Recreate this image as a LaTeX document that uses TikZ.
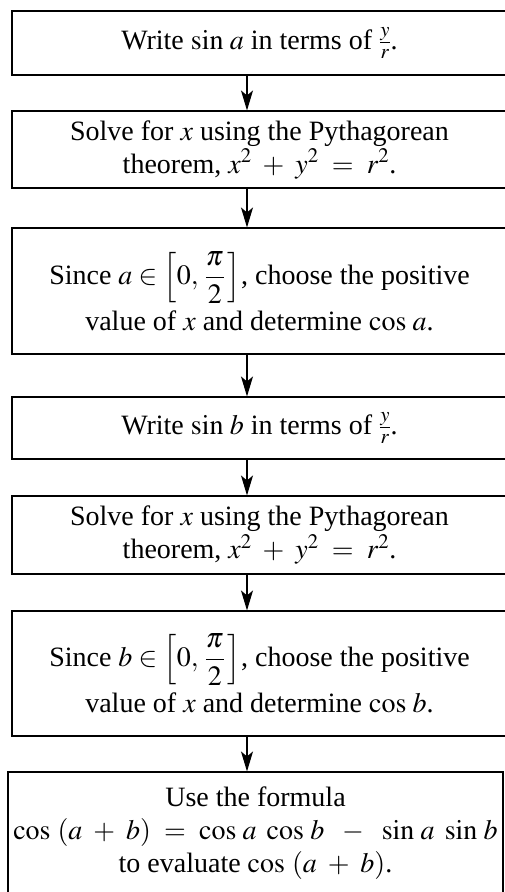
\documentclass[tikz,border=0pt]{standalone}
\usepackage{amsmath}
\usepackage{mathptmx}
\usepackage{fontspec}
\setmainfont{Liberation Serif}
\usetikzlibrary{arrows.meta,positioning}
\tikzset{
  stepbox/.style={draw,line width=1.1pt,minimum width=495pt,align=center,inner sep=0pt},
  flow/.style={-{Stealth[length=20pt,width=12pt,inset=5pt]},line width=1.1pt}
}
\begin{document}
\begin{tikzpicture}[x=1pt,y=-1pt,font=\fontsize{28}{33}\selectfont]
\useasboundingbox (0,0) rectangle (505,892);
\node[stepbox,minimum height=64pt] (sina) at (259.5,43) {Write $\sin\,a$ in terms of $\frac{y}{r}$.};
\node[stepbox,minimum height=77pt] (pya) at (259.5,149.5) {Solve for $x$ using the Pythagorean\\ theorem, $x^2\ +\ y^2\ =\ r^2$.};
\node[stepbox,minimum height=126pt] (cosa) at (259.5,291) {Since $a \in \left[0,\, \dfrac{\pi}{2}\,\right]$, choose the positive\\[6pt] value of $x$ and determine $\cos\,a$.};
\node[stepbox,minimum height=62pt] (sinb) at (259.5,428) {Write $\sin\,b$ in terms of $\frac{y}{r}$.};
\node[stepbox,minimum height=78pt] (pyb) at (259.5,535) {Solve for $x$ using the Pythagorean\\ theorem, $x^2\ +\ y^2\ =\ r^2$.};
\node[stepbox,minimum height=125pt] (cosb) at (259.5,673.5) {Since $b \in \left[0,\, \dfrac{\pi}{2}\,\right]$, choose the positive\\[6pt] value of $x$ and determine $\cos\,b$.};
\node[stepbox,minimum height=122pt] (sum) at (255.5,833) {Use the formula\\ $\cos\ (a\ +\ b)\ =\ \cos\,a\ \cos\,b\enskip-\enskip\sin\,a\ \sin\,b$\\ to evaluate $\cos\ (a\ +\ b)$.};
\draw[flow] ([xshift=-12.5pt]sina.south) -- ([xshift=-12.5pt]pya.north);
\draw[flow] ([xshift=-12.5pt]pya.south) -- ([xshift=-12.5pt]cosa.north);
\draw[flow] ([xshift=-12.5pt]cosa.south) -- ([xshift=-12.5pt]sinb.north);
\draw[flow] ([xshift=-12.5pt]sinb.south) -- ([xshift=-12.5pt]pyb.north);
\draw[flow] ([xshift=-12.5pt]pyb.south) -- ([xshift=-12.5pt]cosb.north);
\draw[flow] ([xshift=-12.5pt]cosb.south) -- ([xshift=-8.5pt]sum.north);
\end{tikzpicture}
\end{document}
